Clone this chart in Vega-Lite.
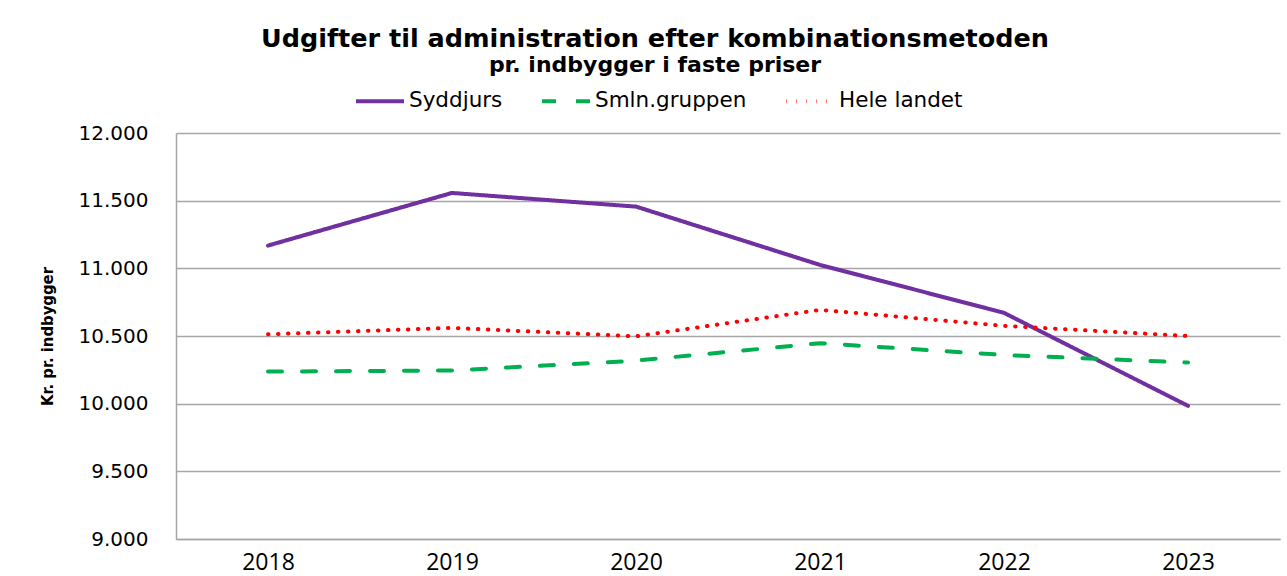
{
  "$schema": "https://vega.github.io/schema/vega-lite/v6.json",
  "autosize": {"type": "none"},
  "width": 1104,
  "height": 406,
  "padding": {"left": 176, "top": 133, "right": 7, "bottom": 37},
  "background": "white",
  "title": {
    "text": "Udgifter til administration efter kombinationsmetoden",
    "subtitle": "pr. indbygger i faste priser",
    "anchor": "middle",
    "dx": -73,
    "offset": -1,
    "font": "DejaVu Sans",
    "fontSize": 25.5,
    "fontWeight": "bold",
    "color": "#000000",
    "subtitleFont": "DejaVu Sans",
    "subtitleFontSize": 22,
    "subtitleFontWeight": "bold",
    "subtitleColor": "#000000",
    "subtitlePadding": 3
  },
  "data": {
    "values": [
      {"year": "2018", "serie": "Syddjurs", "value": 11168},
      {"year": "2019", "serie": "Syddjurs", "value": 11557},
      {"year": "2020", "serie": "Syddjurs", "value": 11456},
      {"year": "2021", "serie": "Syddjurs", "value": 11025},
      {"year": "2022", "serie": "Syddjurs", "value": 10671},
      {"year": "2023", "serie": "Syddjurs", "value": 9984},
      {"year": "2018", "serie": "Smln.gruppen", "value": 10237},
      {"year": "2019", "serie": "Smln.gruppen", "value": 10245},
      {"year": "2020", "serie": "Smln.gruppen", "value": 10318},
      {"year": "2021", "serie": "Smln.gruppen", "value": 10447},
      {"year": "2022", "serie": "Smln.gruppen", "value": 10360},
      {"year": "2023", "serie": "Smln.gruppen", "value": 10304},
      {"year": "2018", "serie": "Hele landet", "value": 10513},
      {"year": "2019", "serie": "Hele landet", "value": 10560},
      {"year": "2020", "serie": "Hele landet", "value": 10498},
      {"year": "2021", "serie": "Hele landet", "value": 10693},
      {"year": "2022", "serie": "Hele landet", "value": 10575},
      {"year": "2023", "serie": "Hele landet", "value": 10500}
    ]
  },
  "mark": {"type": "line", "strokeWidth": 4, "strokeCap": "round"},
  "encoding": {
    "x": {
      "field": "year",
      "type": "ordinal",
      "scale": {"type": "point", "padding": 0.5},
      "axis": {
        "title": null,
        "labelAngle": 0,
        "labelFont": "Open Sans",
        "labelFontSize": 23,
        "labelColor": "#000000",
        "labelPadding": 12,
        "ticks": false,
        "domainColor": "#A6A6A6",
        "domainWidth": 1.5,
        "grid": false
      }
    },
    "y": {
      "field": "value",
      "type": "quantitative",
      "scale": {"domain": [9000, 12000], "nice": false, "zero": false},
      "axis": {
        "title": "Kr. pr. indbygger",
        "titleFont": "DejaVu Sans Condensed",
        "titleFontSize": 16.5,
        "titleFontWeight": "bold",
        "titleColor": "#000000",
        "titleX": -129,
        "titleBaseline": "middle",
        "values": [9000, 9500, 10000, 10500, 11000, 11500, 12000],
        "format": ",d",
        "labelExpr": "replace(datum.label, ',', '.')",
        "labelFont": "DejaVu Sans",
        "labelFontSize": 20,
        "labelColor": "#000000",
        "labelPadding": 28,
        "ticks": false,
        "domainColor": "#A6A6A6",
        "domainWidth": 1.5,
        "grid": true,
        "gridColor": "#A6A6A6",
        "gridWidth": 1.5
      }
    },
    "color": {
      "field": "serie",
      "type": "nominal",
      "scale": {
        "domain": ["Syddjurs", "Smln.gruppen", "Hele landet"],
        "range": ["#7030A0", "#00B050", "#FF0000"]
      },
      "legend": {
        "title": null,
        "orient": "none",
        "legendX": 178,
        "legendY": -58,
        "direction": "horizontal",
        "columns": 3,
        "columnPadding": 31,
        "symbolType": "stroke",
        "symbolSize": 2300,
        "symbolStrokeWidth": 4,
        "labelFont": "DejaVu Sans",
        "labelFontSize": 21.5,
        "labelColor": "#000000",
        "labelOffset": 3
      }
    },
    "strokeDash": {
      "field": "serie",
      "type": "nominal",
      "scale": {
        "domain": ["Syddjurs", "Smln.gruppen", "Hele landet"],
        "range": [[1, 0], [14, 20], [0.5, 9.5]]
      },
      "legend": null
    }
  },
  "config": {"view": {"stroke": null}}
}
